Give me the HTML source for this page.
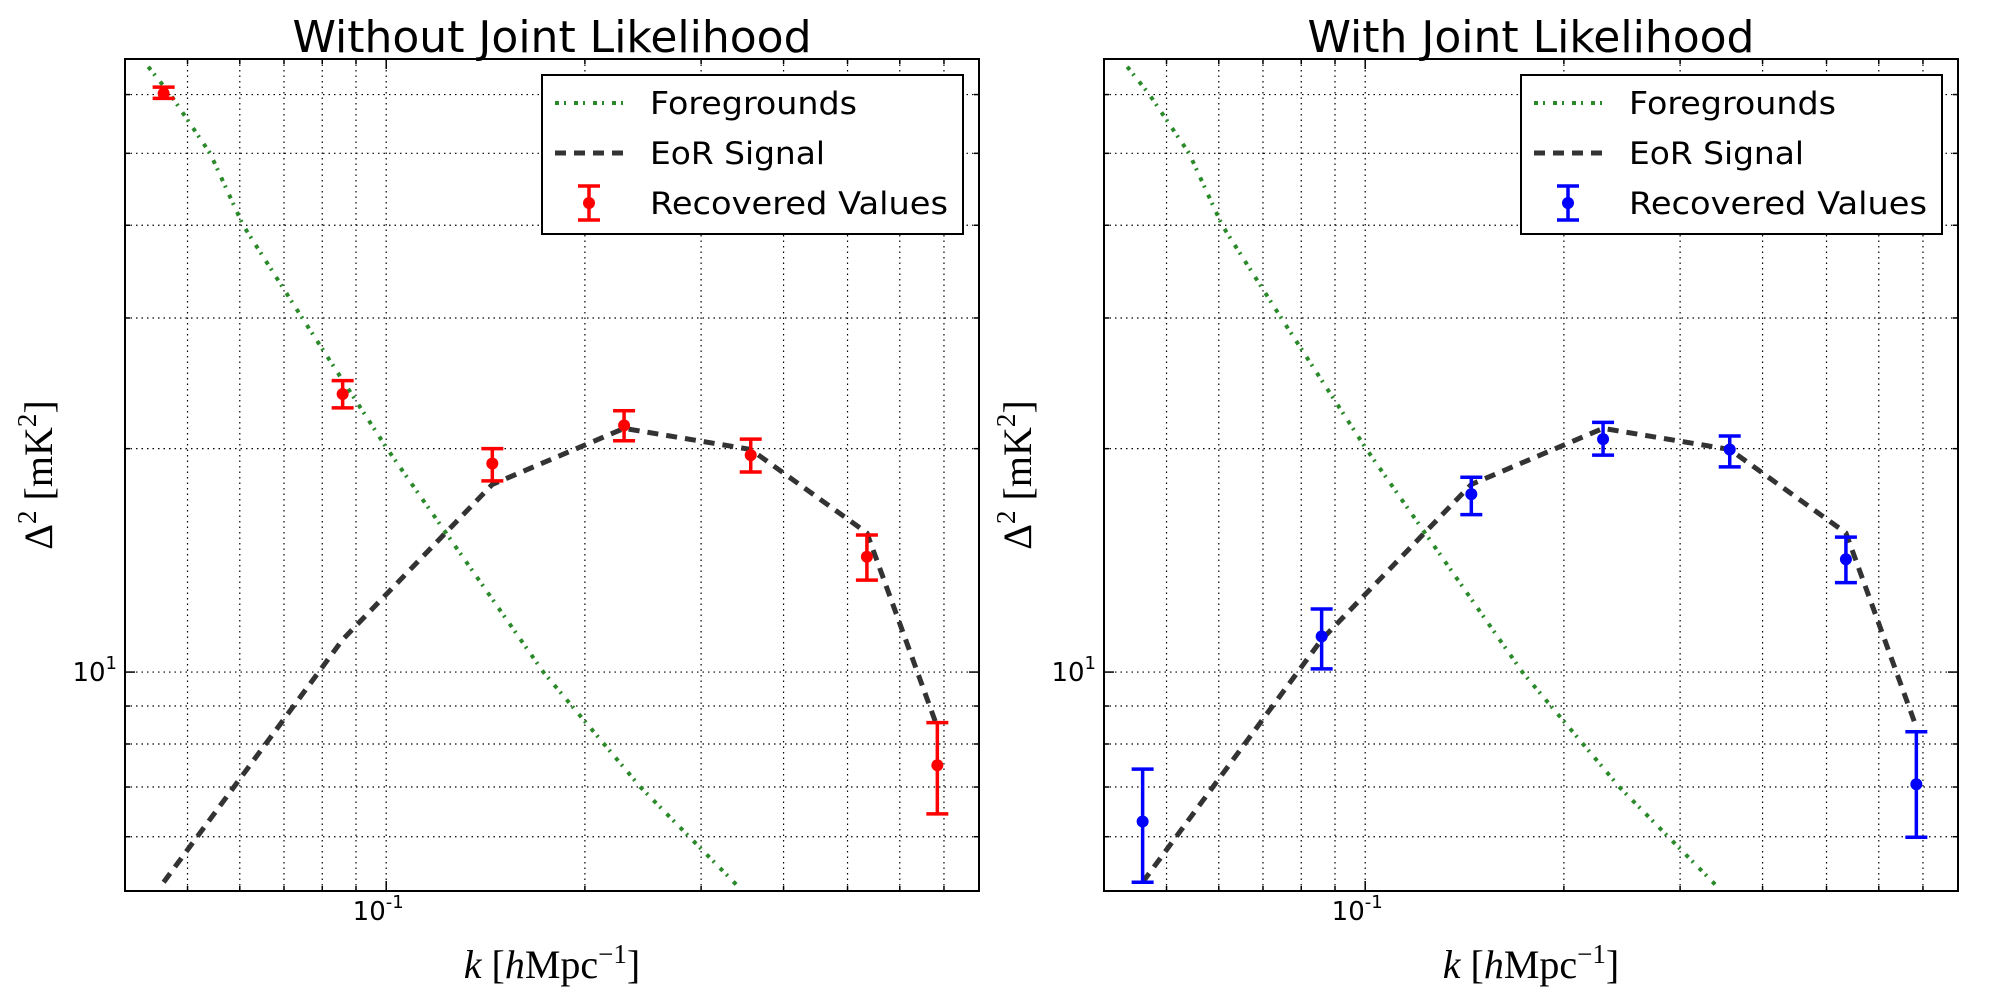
<!DOCTYPE html>
<html><head><meta charset="utf-8">
<style>
html,body{margin:0;padding:0;background:#fff;}
svg{display:block;}
text{font-family:"DejaVu Sans","Liberation Sans",sans-serif;}
.serif{font-family:"Liberation Serif","DejaVu Serif",serif;}
</style></head>
<body>
<svg id="fig" width="2000" height="1000" viewBox="0 0 2000 1000" xmlns="http://www.w3.org/2000/svg"></svg>
<script>
// ---- data ----
const kValues = [0.046, 0.0859, 0.1448, 0.2293, 0.3567, 0.535, 0.684];
const eorSignal = [5.21, 11.06, 17.9, 21.3, 19.95, 15.4, 8.43];
const fgK = [0.0436, 0.0471, 0.0541, 0.0607, 0.0746, 0.1003, 0.173, 0.2427, 0.340];
const fgValues = [65.4, 60, 50, 40, 30, 20, 10, 7, 5.16];
const redValues = [60.2, 23.7, 19.1, 21.5, 19.6, 14.3, 7.49];
const redLow = [59.3, 22.7, 18.1, 20.5, 18.6, 13.3, 6.44];
const redHigh = [61.4, 24.7, 20.0, 22.5, 20.6, 15.3, 8.55];
const blueValues = [6.29, 11.17, 17.37, 20.6, 19.95, 14.19, 7.06];
const blueLow = [5.21, 10.1, 16.3, 19.6, 18.9, 13.2, 5.99];
const blueHigh = [7.40, 12.16, 18.3, 21.7, 20.8, 15.2, 8.31];
const yGridVals = [6, 7, 8, 9, 10, 20, 30, 40, 50, 60];
const xGridVals = [0.05, 0.06, 0.07, 0.08, 0.09, 0.1, 0.2, 0.3, 0.4, 0.5, 0.6, 0.7];
const titles = ["Without Joint Likelihood", "With Joint Likelihood"];

const NS = "http://www.w3.org/2000/svg";
const svg = document.getElementById("fig");
function mk(tag, attrs, parent) {
  const e = document.createElementNS(NS, tag);
  for (const k in attrs) e.setAttribute(k, attrs[k]);
  (parent || svg).appendChild(e);
  return e;
}
const W = 854, TOP = 59, BOT = 891;
const XMIN = 0.0402, XMAX = 0.791, YMIN = 5.07, YMAX = 67.0;

function drawPanel(x0, title, vals, lo, hi, color, pname) {
  const g = mk("g", {});
  
  
  const xs = v => x0 + (Math.log10(v) - Math.log10(XMIN)) / (Math.log10(XMAX) - Math.log10(XMIN)) * W;
  const ys = v => BOT - (Math.log10(v) - Math.log10(YMIN)) / (Math.log10(YMAX) - Math.log10(YMIN)) * (BOT - TOP);
  const grid = mk("g", {stroke: "#000", "stroke-width": 1.2, "stroke-dasharray": "1.5 4"}, g);
  
  
  yGridVals.forEach(v => { const y = ys(v); mk("line", {x1: x0, x2: x0 + W, y1: y, y2: y}, grid); });
  xGridVals.forEach(v => { const x = xs(v); mk("line", {x1: x, x2: x, y1: TOP, y2: BOT}, grid); });
  const tk = mk("g", {stroke: "#000", "stroke-width": 1.5}, g);
  yGridVals.forEach(v => { const y = ys(v); const L = v === 10 ? 10 : 5;
    mk("line", {x1: x0, x2: x0 + L, y1: y, y2: y}, tk); mk("line", {x1: x0 + W - L, x2: x0 + W, y1: y, y2: y}, tk); });
  xGridVals.forEach(v => { const x = xs(v); const L = v === 0.1 ? 10 : 5;
    mk("line", {x1: x, x2: x, y1: BOT - L, y2: BOT}, tk); mk("line", {x1: x, x2: x, y1: TOP, y2: TOP + L}, tk); });
  const fg = mk("polyline", {points: fgK.map((k, i) => xs(k) + "," + ys(fgValues[i])).join(" "),
    fill: "none", stroke: "#2a8a2a", "stroke-width": 4, "stroke-dasharray": "4 5 2 8"}, g);
  
  
  const eor = mk("polyline", {points: kValues.map((k, i) => xs(k) + "," + ys(eorSignal[i])).join(" "),
    fill: "none", stroke: "#333", "stroke-width": 5, "stroke-dasharray": "11 8"}, g);
  
  
  kValues.forEach((k, i) => {
    const eg = mk("g", {stroke: color, "stroke-width": 3.5, fill: color}, g);
    
    
    const x = xs(k), yl = ys(lo[i]), yh = ys(hi[i]);
    mk("line", {x1: x, x2: x, y1: yh, y2: yl}, eg);
    mk("line", {x1: x - 11, x2: x + 11, y1: yh, y2: yh}, eg);
    mk("line", {x1: x - 11, x2: x + 11, y1: yl, y2: yl}, eg);
    mk("circle", {cx: x, cy: ys(vals[i]), r: 6, stroke: "none"}, eg);
  });
  const fr = mk("rect", {x: x0, y: TOP, width: W, height: BOT - TOP, fill: "none", stroke: "#000", "stroke-width": 2}, g);
  
  
  const yl = mk("text", {x: x0 - 8, y: ys(10) + 9, "font-size": 26, "text-anchor": "end"}, g);
  
  
  yl.innerHTML = '10<tspan dy="-12" font-size="18">1</tspan>';
  const xl = mk("text", {x: xs(0.1) - 8, y: 920, "font-size": 26, "text-anchor": "middle"}, g);
  
  
  xl.innerHTML = '10<tspan dy="-12" font-size="18">-1</tspan>';
  const t = mk("text", {x: x0 + W / 2, y: 52, "font-size": 44, "text-anchor": "middle"}, g);
  
  
  t.textContent = title;
  const xa = mk("text", {x: x0 + W / 2, y: 978, "font-size": 40, "text-anchor": "middle", class: "serif"}, g);
  
  
  xa.innerHTML = '<tspan font-style="italic">k</tspan> [<tspan font-style="italic">h</tspan>Mpc<tspan dy="-15" font-size="27">−1</tspan><tspan dy="15">]</tspan>';
  const ya = mk("text", {x: 0, y: 0, "font-size": 40, "text-anchor": "middle", class: "serif",
    transform: "translate(" + (x0 - 73) + "," + ((TOP + BOT) / 2) + ") rotate(-90)"}, g);
  
  
  ya.innerHTML = 'Δ<tspan dy="-16" font-size="27">2</tspan><tspan dy="16"> [mK</tspan><tspan dy="-16" font-size="27">2</tspan><tspan dy="16">]</tspan>';
  const lx = x0 + 417, ly = 75;
  const lg = mk("g", {}, g);
  
  
  mk("rect", {x: lx, y: ly, width: 421, height: 159, fill: "#fff", stroke: "#000", "stroke-width": 2}, lg);
  mk("line", {x1: lx + 13, x2: lx + 81, y1: 103, y2: 103, stroke: "#2a8a2a", "stroke-width": 4, "stroke-dasharray": "4 5 2 8"}, lg);
  mk("line", {x1: lx + 13, x2: lx + 81, y1: 153, y2: 153, stroke: "#333", "stroke-width": 5, "stroke-dasharray": "11 8"}, lg);
  const mx = lx + 47;
  mk("line", {x1: mx, x2: mx, y1: 186, y2: 220, stroke: color, "stroke-width": 3.5}, lg);
  mk("line", {x1: mx - 11, x2: mx + 11, y1: 186, y2: 186, stroke: color, "stroke-width": 3.5}, lg);
  mk("line", {x1: mx - 11, x2: mx + 11, y1: 220, y2: 220, stroke: color, "stroke-width": 3.5}, lg);
  mk("circle", {cx: mx, cy: 203, r: 6, fill: color}, lg);
  [["Foregrounds", 114, 207], ["EoR Signal", 164, 175], ["Recovered Values", 214, 298]].forEach(e => {
    const te = mk("text", {x: lx + 108, y: e[1], "font-size": 31, textLength: e[2], lengthAdjust: "spacingAndGlyphs"}, lg);
    
    
    te.textContent = e[0];
  });
}
drawPanel(125, titles[0], redValues, redLow, redHigh, "#ff0000", "left-panel");
drawPanel(1104, titles[1], blueValues, blueLow, blueHigh, "#0000ff", "right-panel");
</script>
</body></html>
